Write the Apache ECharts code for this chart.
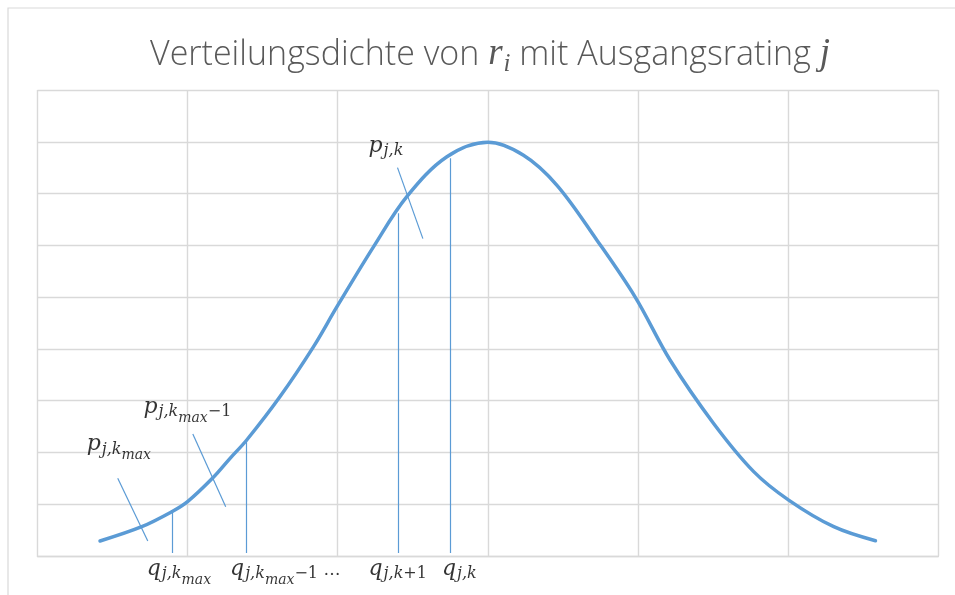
<!DOCTYPE html>
<html>
<head>
<meta charset="utf-8">
<script src="https://cdn.jsdelivr.net/npm/echarts@6/dist/echarts.min.js"></script>
<style>
html,body{margin:0;padding:0;background:#fff;}
#chart{width:955px;height:595px;}
</style>
</head>
<body>
<div id="chart"></div>
<script>
// Density curve (x in grid-column units 0..6, y in grid-row units 0..9)
const curveX = [0.417,0.695,0.895,1.0,1.172,1.283,1.394,1.616,1.838,1.994,2.238,2.46,2.727,3.0,3.237,3.46,3.726,3.981,4.214,4.503,4.77,5.003,5.303,5.581];
const curveY = [0.29,0.566,0.855,1.05,1.52,1.886,2.24,3.08,4.04,4.81,5.97,6.94,7.71,7.99,7.74,7.16,6.10,5.0,3.78,2.56,1.63,1.08,0.566,0.295];

// Quantile markers (vertical lines): x position, bottom and top
const qX = [0.895, 1.394, 2.400, 2.749];
const qBottom = [0.058, 0.058, 0.058, 0.058];
const qTop = [0.855, 2.24, 6.62, 7.68];

// Leader lines for the probability labels
const leadX1 = [2.398, 1.035, 0.535];
const leadY1 = [7.50, 2.355, 1.50];
const leadX2 = [2.567, 1.254, 0.735];
const leadY2 = [6.13, 0.952, 0.29];

// Annotation labels (anchor = top-left of label)
const labelTexts = [
  '{m|p}{s|j,k}',
  '{m|p}{s|j,k}{ss|max}{su|−1}',
  '{m|p}{s|j,k}{ss|max}',
  '{m|q}{s|j,k}{ss|max}',
  '{m|q}{s|j,k}{ss|max}{su|−1}{d| …}',
  '{m|q}{s|j,k}{su|+1}',
  '{m|q}{s|j,k}'
];
const labelX = [2.205, 0.706, 0.328, 0.728, 1.283, 2.205, 2.694];
const labelY = [8.166, 3.127, 2.400, 0, 0, 0, 0];

const titleText = '{a|Verteilungsdichte von }{r|r}{i|i}{a| mit Ausgangsrating }{j|j}';

const serif = 'DejaVu Serif';
const tserif = 'Liberation Serif';
const blue = '#5B9BD5';
const gridColor = '#d9d9d9';

const labelRich = {
  m: {fontFamily: serif, fontStyle: 'italic', fontSize: 22, lineHeight: 22, verticalAlign: 'top', padding: [2,0,0,0], color: '#000'},
  s: {fontFamily: serif, fontStyle: 'italic', fontSize: 16, lineHeight: 16, verticalAlign: 'top', padding: [10,0,0,1], color: '#000'},
  ss: {fontFamily: serif, fontStyle: 'italic', fontSize: 14, lineHeight: 14, verticalAlign: 'top', padding: [17,0,0,0], color: '#000'},
  su: {fontFamily: serif, fontStyle: 'normal', fontSize: 16, lineHeight: 16, verticalAlign: 'top', padding: [10,0,0,0], color: '#000'},
  d: {fontFamily: serif, fontStyle: 'normal', fontSize: 17, lineHeight: 17, verticalAlign: 'top', padding: [6,0,0,0], color: '#000'}
};

const chart = echarts.init(document.getElementById('chart'), null, {renderer: 'canvas'});

const curveData = curveX.map((x, i) => [x, curveY[i]]);
const qLines = qX.map((x, i) => [{coord: [x, qBottom[i]]}, {coord: [x, qTop[i]]}]);
const leadLines = leadX1.map((x, i) => [{coord: [x, leadY1[i]]}, {coord: [leadX2[i], leadY2[i]]}]);
const labelData = labelX.map((x, i) => [x, labelY[i]]);

chart.setOption({
  animation: false,
  backgroundColor: '#fff',
  grid: {left: 37.4, right: 16.6, top: 90, bottom: 39, containLabel: false},
  xAxis: {
    type: 'value', min: 0, max: 6, interval: 1,
    axisLine: {show: true, lineStyle: {color: gridColor, width: 1.4}},
    axisTick: {show: false}, axisLabel: {show: false},
    splitLine: {show: true, lineStyle: {color: gridColor, width: 1.4}}
  },
  yAxis: {
    type: 'value', min: 0, max: 9, interval: 1,
    axisLine: {show: false}, axisTick: {show: false}, axisLabel: {show: false},
    splitLine: {show: true, lineStyle: {color: gridColor, width: 1.4}}
  },
  graphic: [
    {type: 'rect', silent: true, shape: {x: 8, y: 8, width: 1200, height: 1200},
     style: {fill: 'none', stroke: gridColor, lineWidth: 1.2}},
    {type: 'text', silent: true, x: 490, y: 28,
     style: {
       text: titleText, align: 'center', verticalAlign: 'top',
       rich: {
         a: {fontFamily: 'Open Sans', fontWeight: 300, fontSize: 34, lineHeight: 34, verticalAlign: 'top', padding: [10,0,0,0], fill: '#595959'},
         r: {fontFamily: tserif, fontStyle: 'italic', fontSize: 37, lineHeight: 37, verticalAlign: 'top', padding: [8,0,0,0], fill: '#595959'},
         i: {fontFamily: tserif, fontStyle: 'italic', fontSize: 25, lineHeight: 25, verticalAlign: 'top', padding: [24,0,0,1], fill: '#595959'},
         j: {fontFamily: tserif, fontStyle: 'italic', fontSize: 37, lineHeight: 37, verticalAlign: 'top', padding: [8,0,0,0], fill: '#595959'}
       }
     }}
  ],
  series: [
    {
      type: 'line', data: curveData, smooth: 0.35, symbol: 'none', z: 5,
      lineStyle: {color: blue, width: 3.5, cap: 'round'},
      silent: true
    },
    {
      type: 'line', data: [], symbol: 'none', z: 4, silent: true,
      markLine: {
        silent: true, symbol: ['none', 'none'], animation: false,
        label: {show: false},
        lineStyle: {color: blue, width: 1.2, type: 'solid'},
        emphasis: {disabled: true},
        data: qLines.concat(leadLines)
      }
    },
    {
      type: 'scatter', data: labelData, symbolSize: 0, clip: false, z: 6, silent: true,
      label: {
        show: true, position: 'inside', align: 'left', verticalAlign: 'top',
        formatter: p => labelTexts[p.dataIndex],
        rich: labelRich, color: '#000'
      }
    }
  ]
});
</script>
</body>
</html>
